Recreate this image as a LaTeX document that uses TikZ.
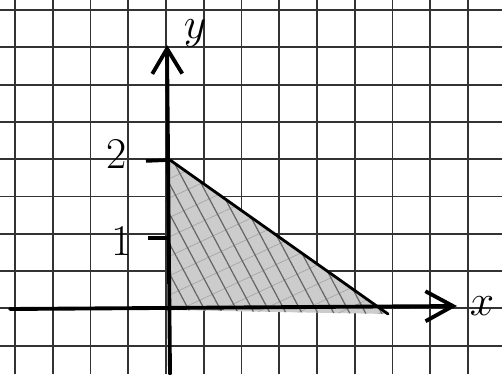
\documentclass[tikz,border=0pt]{standalone}
\usepackage{tikz}
\usetikzlibrary{arrows.meta, patterns.meta, positioning}

\begin{document}
\begin{tikzpicture}[
    x=0.02cm, y=-0.02cm,
    gridline/.style={line width=1.1pt, black!80},
    axis/.style={line width=2.2pt, black, line cap=round},
    region/.style={fill=black!20},
    hatch/.style={pattern={Lines[angle=-62,distance=8pt,line width=0.7pt]},
                  pattern color=black!60},
    crosshatch/.style={pattern={Lines[angle=25,distance=10pt,line width=0.4pt]},
                       pattern color=black!35},
    edge/.style={line width=1.6pt, black, line cap=round},
    tick/.style={line width=2pt, black},
    ticklabel/.style={font=\fontsize{25}{30}\selectfont, inner sep=0pt},
    axislabel/.style={font=\fontsize{38}{44}\selectfont, inner sep=0pt}
  ]
    % paper
    \useasboundingbox (0,0) rectangle (502,374);
    \fill[white] (0,0) rectangle (502,374);
    \foreach \gx in {0,...,12}
      \draw[gridline] ({15+37.75*\gx},0) -- ({15+37.75*\gx},374);
    \foreach \gy in {0,...,9}
      \draw[gridline] (0,{10+37.3*\gy}) -- (502,{10+37.3*\gy});

    % points
    \coordinate (O) at (170,310);
    \coordinate (top) at (170,160);
    \coordinate (foot) at (388,314);
    \coordinate (xstart) at (10,309);
    \coordinate (xend) at (457,306);
    \coordinate (ystart) at (170,374);
    \coordinate (yend) at (167,45);

    % shaded region
    \fill[region] (top) -- (foot) -- (O) -- cycle;
    \path[crosshatch] (top) -- (foot) -- (O) -- cycle;
    \path[hatch] (top) -- (foot) -- (O) -- cycle;
    \draw[edge] (top) -- (foot);

    % axes
    \draw[axis, -{Straight Barb[length=5.5mm, width=6mm]}] (xstart) -- (xend);
    \draw[axis, -{Straight Barb[length=5mm, width=6mm]}] (ystart) -- (yend);
    \node[axislabel] (xlabel) at (482,306) {$x$};
    \node[axislabel] (ylabel) at (195,33) {$y$};

    % ticks
    \coordinate (t2) at (146,161);
    \coordinate (t1) at (148,238);
    \draw[tick] (t2) -- (top);
    \draw[tick] (t1) -- (170,238);
    \node[ticklabel] (two) at (117,154) {2};
    \node[ticklabel] (one) at (122,241) {1};
  \end{tikzpicture}
\end{document}
